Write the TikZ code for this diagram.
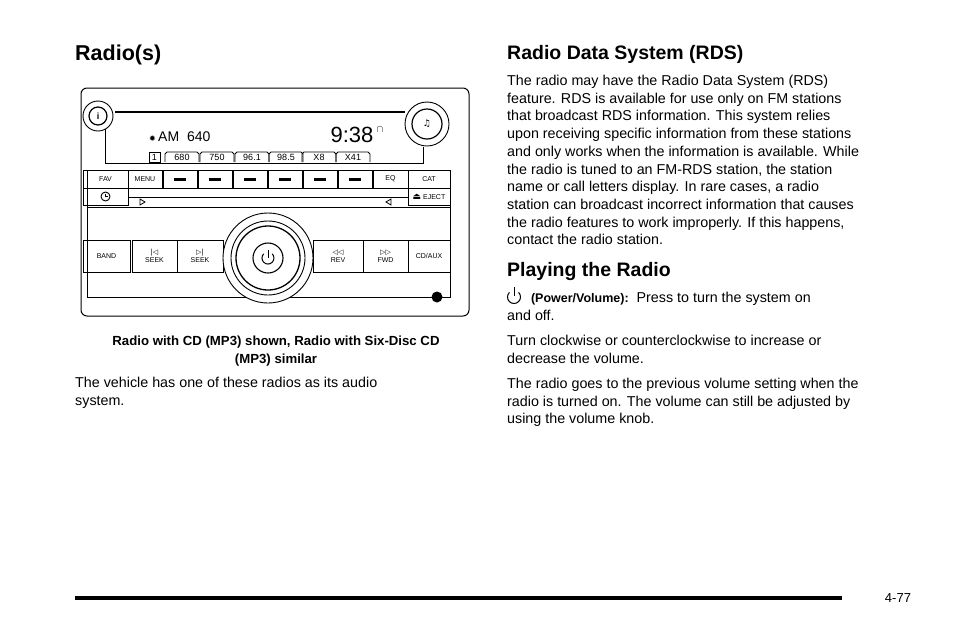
\documentclass[tikz,border=0pt]{standalone}
\usepackage{fontspec}
\setmainfont{Liberation Sans}
\newfontfamily\dvs{DejaVu Sans}
\newcommand\symf{\dvs\fontsize{7}{7}\selectfont}
\begin{document}
\begin{tikzpicture}[x=1pt,y=-1pt,
  body/.style={anchor=north west,align=left,inner sep=0pt,font=\fontsize{14.3}{17.7}\selectfont},
  head/.style={anchor=west,inner sep=0pt,font=\bfseries\fontsize{19.5}{22}\selectfont},
  btn/.style={draw,line width=0.9pt},
  lbl/.style={inner sep=0pt,font=\fontsize{7}{8.5}\selectfont,align=center},
  tabtxt/.style={inner sep=0pt,font=\fontsize{9}{9}\selectfont}]
\useasboundingbox (0,0) rectangle (954,638);
% left column
\node[head,font=\bfseries\fontsize{21.5}{24}\selectfont] (t1) at (75,55) {Radio(s)};
% radio
\draw[line width=1pt,rounded corners=6] (81,88) rectangle (469,316);
\draw[line width=0.9pt] (87,170) rectangle (450,297);
\draw[line width=0.9pt] (87,207) -- (450,207);
\draw[line width=1.2pt] (115,112) -- (405,112);
\draw[line width=0.9pt] (105,128) -- (105,163) -- (423,163) -- (423,147);
\node[draw,circle,line width=0.9pt,minimum size=30pt,fill=white] (info) at (98,116) {};
\node[draw,circle,line width=1.2pt,minimum size=18pt] (infoi) at (98,116) {\bfseries\small i};
\node[draw,circle,line width=0.9pt,minimum size=44pt,fill=white] (mus) at (427,124) {};
\node[draw,circle,line width=1.2pt,minimum size=30pt] (musi) at (427,124) {\dvs\small ♫};
\node[anchor=west,inner sep=0pt] (am) at (149,137) {\dvs\fontsize{8}{8}\selectfont ✹\normalfont\fontsize{14}{14}\selectfont\,AM\ \ 640};
\node[inner sep=0pt,font=\fontsize{22}{22}\selectfont] (time) at (352,135) {9:38};
\node[inner sep=0pt,font=\bfseries\normalsize] (sig) at (380,130) {$\cap$};
\foreach \x/\t in {182/680,217/750,252/96.1,286/98.5,319/X8,353/X41}{
  \draw[line width=0.8pt] (\x-17,162) -- (\x-17,154) -- (\x-15,152) -- (\x+15,152) -- (\x+17,154) -- (\x+17,162);
  \node[tabtxt] (tab\t) at (\x,157.5) {\t};}
\draw[line width=0.8pt] (149,162) rectangle (160,152);
\node[tabtxt] (tab1) at (154.5,157.5) {1};
% row1
\node[btn,minimum width=45pt,minimum height=18pt] (fav) at (105.5,179) {};
\node[lbl] at (fav) {FAV};
\node[btn,minimum width=34pt,minimum height=18pt] (menu) at (145,179) {};
\node[lbl] at (menu) {MENU};
\foreach \x in {180,215,250,285,320,355}{
  \node[btn,minimum width=34pt,minimum height=18pt] at (\x,179) {};
  \fill (\x-6,177.5) rectangle (\x+6,180.5);}
\node[btn,minimum width=35pt,minimum height=18pt] (eq) at (390.5,179) {};
\node[lbl] at (eq) {EQ};
\node[btn,minimum width=42pt,minimum height=18pt] (cat) at (429,179) {};
\node[lbl] at (cat) {CAT};
\node[btn,minimum width=45pt,minimum height=17pt] (clk) at (105.5,196.5) {};
\node[draw,circle,line width=0.9pt,minimum size=9pt,inner sep=0pt] at (105.5,196.5) {};
\draw[line width=0.8pt] (105.5,193.5) -- (105.5,196.5) -- (107.5,196.5);
\node[btn,minimum width=42pt,minimum height=17pt] (ej) at (429,196.5) {};
\node[lbl] at (ej) {\dvs\fontsize{9}{9}\selectfont ⏏\normalfont\fontsize{7}{7}\selectfont\ EJECT};
\draw[line width=0.9pt] (128,197) -- (408,197);
\draw[line width=0.8pt] (140,199) -- (140,205) -- (145,202) -- cycle;
\draw[line width=0.8pt] (391,199) -- (391,205) -- (386,202) -- cycle;
% row3
\node[btn,minimum width=47pt,minimum height=32pt] (band) at (106.5,256) {};
\node[lbl] at (band) {BAND};
\node[btn,minimum width=45pt,minimum height=32pt] (s1) at (154.5,256) {};
\node[lbl] at (s1) {{\symf |◁}\\SEEK};
\node[btn,minimum width=46pt,minimum height=32pt] (s2) at (200,256) {};
\node[lbl] at (s2) {{\symf ▷|}\\SEEK};
\node[btn,minimum width=50pt,minimum height=32pt] (rev) at (338,256) {};
\node[lbl] at (rev) {{\symf ◁◁}\\REV};
\node[btn,minimum width=45pt,minimum height=32pt] (fwd) at (385.5,256) {};
\node[lbl] at (fwd) {{\symf ▷▷}\\FWD};
\node[btn,minimum width=42pt,minimum height=32pt] (cd) at (429,256) {};
\node[lbl] at (cd) {CD/AUX};
\node[draw,circle,line width=0.9pt,minimum size=90pt,fill=white] (k1) at (268,258) {};
\node[draw,circle,line width=0.9pt,minimum size=74pt] (k2) at (268,258) {};
\node[draw,circle,line width=1.3pt,minimum size=64pt] (k3) at (268,258) {};
\node[draw,circle,line width=1.1pt,minimum size=30pt] (k4) at (268,258) {};
\draw[line width=1pt] (272.2,253.8) arc (-45:225:6);
\draw[line width=1pt] (268,250) -- (268,258);
\fill (437,297) circle (5.5);
\node[anchor=north,align=center,inner sep=0pt,font=\bfseries\fontsize{13.2}{17.7}\selectfont] (cap) at (276,336) {Radio with CD (MP3) shown, Radio with Six-Disc CD\\(MP3) similar};
\node[body] (p0) at (75,377) {The vehicle has one of these radios as its audio\\system.};
% right column
\node[head] (h1) at (507,54) {Radio Data System (RDS)};
\node[body] (p1) at (507,75) {The radio may have the Radio Data System (RDS)\\feature. RDS is available for use only on FM stations\\that broadcast RDS information. This system relies\\upon receiving specific information from these stations\\and only works when the information is available. While\\the radio is tuned to an FM-RDS station, the station\\name or call letters display. In rare cases, a radio\\station can broadcast incorrect information that causes\\the radio features to work improperly. If this happens,\\contact the radio station.};
\node[head] (h2) at (507,271) {Playing the Radio};
\draw[line width=1pt] (518.6,292.4) arc (-45:225:6.5);
\draw[line width=1pt] (514,287) -- (514,296);
\node[body] (p2) at (507,292) {\hphantom{MM}{\bfseries\fontsize{12.5}{14}\selectfont(Power/Volume):}\ \ Press to turn the system on\\and off.};
\node[body] (p3) at (507,335) {Turn clockwise or counterclockwise to increase or\\decrease the volume.};
\node[body] (p4) at (507,378) {The radio goes to the previous volume setting when the\\radio is turned on. The volume can still be adjusted by\\using the volume knob.};
\draw[line width=4pt] (75,598) -- (842,598);
\node[inner sep=0pt,font=\fontsize{13}{14}\selectfont] (pg) at (898,598) {4-77};
\end{tikzpicture}
\end{document}
